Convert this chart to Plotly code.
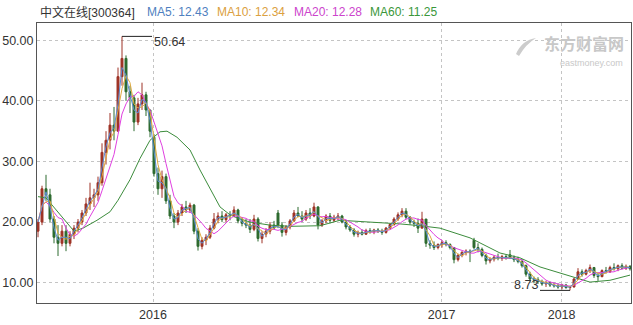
import plotly.graph_objects as go
import pandas as pd

# ---------------- data ----------------
open_ = [18.5, 20.0, 25.5, 24.5, 20.5, 17.5, 16.5, 18.5, 16.5, 18.0,
         19.0, 20.0, 21.5, 23.0, 24.0, 24.5, 26.5, 31.5, 33.5, 36.0,
         35.0, 44.0, 47.0, 41.5, 40.5, 36.5, 39.5, 41.0, 38.5, 34.0,
         28.0, 25.5, 27.5, 23.5, 21.0, 20.0, 21.5, 22.5, 22.0, 22.8,
         18.5, 16.0, 17.0, 17.5, 19.0, 20.5, 21.0, 20.4, 21.2, 21.0,
         22.0, 20.2, 19.8, 19.5, 18.8, 20.5, 17.3, 18.0, 18.5, 19.5,
         21.5, 19.5, 18.3, 19.2, 20.2, 21.5, 21.0, 20.5, 21.5, 21.0,
         22.5, 19.5, 20.2, 21.0, 20.3, 20.8, 21.0, 20.0, 19.2, 18.7,
         18.0, 18.3, 18.0, 18.6, 18.4, 18.7, 18.5, 18.3, 19.0, 19.6,
         20.5, 21.2, 21.8, 20.8, 20.0, 19.8, 19.0, 20.5, 16.5, 16.2,
         15.8, 16.3, 16.6, 16.3, 15.8, 13.8, 14.5, 15.0, 15.2, 17.0,
         15.8, 15.5, 14.5, 13.6, 13.9, 14.2, 14.0, 14.3, 14.6, 14.1,
         13.8, 13.5, 12.8, 11.4, 10.6, 10.5, 10.2, 9.8, 10.0, 9.6,
         9.5, 9.3, 9.6, 9.2, 9.3, 10.6, 11.8, 11.4, 12.0, 12.5,
         11.2, 11.0, 12.0, 11.8, 12.5, 12.3, 12.8, 12.4, 12.7]
high = [20.5, 26.0, 27.8, 25.5, 21.0, 19.5, 19.5, 19.5, 18.5, 19.5,
        20.5, 22.0, 24.0, 26.5, 25.5, 27.5, 33.0, 35.0, 38.0, 39.0,
        45.5, 50.64, 47.5, 42.5, 41.0, 40.5, 43.0, 41.5, 38.5, 34.5,
        29.0, 28.5, 28.0, 24.5, 21.5, 22.0, 23.0, 23.5, 23.2, 23.0,
        19.0, 17.5, 18.0, 19.5, 21.5, 21.6, 21.8, 21.5, 21.8, 22.6,
        22.2, 20.8, 20.5, 20.5, 21.2, 20.8, 18.5, 19.0, 20.0, 20.2,
        22.0, 20.0, 19.5, 20.5, 22.0, 22.5, 21.8, 22.0, 22.3, 23.2,
        22.6, 20.5, 21.3, 21.5, 21.2, 21.5, 21.2, 20.2, 19.5, 19.0,
        18.6, 18.8, 18.9, 19.0, 18.9, 19.0, 18.9, 19.2, 19.8, 20.8,
        21.6, 22.3, 22.3, 21.0, 20.4, 20.6, 21.7, 20.5, 17.0, 16.8,
        16.5, 17.0, 17.0, 16.5, 15.9, 14.8, 15.2, 15.5, 15.5, 17.4,
        16.5, 15.8, 14.8, 14.2, 14.5, 14.8, 14.6, 14.6, 15.4, 14.5,
        14.3, 13.9, 13.0, 11.8, 11.0, 10.9, 10.5, 10.3, 10.2, 10.0,
        9.9, 9.8, 9.8, 9.5, 10.8, 12.4, 12.2, 12.3, 13.0, 12.6,
        11.6, 12.2, 12.6, 12.8, 13.2, 13.0, 13.2, 13.0, 12.9]
low = [17.5, 19.5, 23.5, 20.0, 16.5, 14.4, 16.0, 15.2, 16.0, 17.2,
       18.3, 19.5, 21.0, 22.0, 22.5, 23.5, 26.0, 29.5, 32.0, 33.5,
       35.0, 42.5, 40.0, 38.0, 35.0, 36.0, 38.5, 37.5, 34.0, 27.5,
       24.5, 24.0, 23.0, 20.5, 19.0, 19.5, 21.0, 21.5, 21.5, 18.0,
       15.3, 15.5, 16.2, 17.2, 18.8, 19.8, 20.0, 20.0, 20.3, 20.8,
       19.8, 19.3, 19.0, 18.2, 18.5, 16.8, 16.5, 17.5, 18.0, 18.8,
       19.0, 17.6, 17.8, 18.8, 20.0, 20.8, 20.0, 20.2, 20.5, 20.8,
       18.8, 19.2, 19.8, 19.8, 20.0, 20.3, 19.8, 18.8, 18.4, 17.6,
       17.5, 17.8, 17.9, 18.1, 18.0, 18.2, 17.9, 18.1, 18.8, 19.4,
       20.2, 20.8, 20.5, 19.6, 19.2, 18.2, 19.0, 15.9, 15.6, 15.4,
       15.5, 15.8, 16.0, 15.5, 13.2, 13.5, 14.2, 14.5, 13.4, 15.5,
       15.0, 14.2, 13.0, 13.2, 13.5, 13.7, 13.6, 13.8, 13.9, 13.4,
       13.2, 12.5, 11.0, 10.2, 9.9, 9.8, 9.5, 9.3, 9.3, 9.2,
       9.0, 8.9, 9.0, 8.73, 9.2, 10.5, 11.0, 11.2, 11.6, 10.8,
       10.3, 10.9, 11.5, 11.6, 12.0, 11.9, 12.2, 12.1, 12.0]
close = [20.0, 25.5, 24.5, 20.5, 17.5, 16.5, 18.5, 16.5, 18.0, 19.0,
         20.0, 21.5, 23.0, 24.0, 24.5, 26.5, 31.5, 33.5, 36.0, 35.0,
         44.0, 47.0, 41.5, 40.5, 36.5, 39.5, 41.0, 38.5, 35.0, 28.0,
         25.5, 27.5, 23.5, 21.0, 20.0, 21.5, 22.5, 22.0, 22.8, 18.5,
         16.0, 17.0, 17.5, 19.0, 20.5, 21.0, 20.4, 21.2, 21.0, 22.0,
         20.2, 19.8, 19.5, 18.8, 20.5, 17.3, 18.0, 18.5, 19.5, 19.0,
         19.5, 18.3, 19.2, 20.2, 21.5, 21.0, 20.5, 21.5, 21.0, 22.5,
         19.5, 20.2, 21.0, 20.3, 20.8, 21.0, 20.0, 19.2, 18.7, 18.0,
         18.3, 18.0, 18.6, 18.4, 18.7, 18.5, 18.3, 19.0, 19.6, 20.5,
         21.2, 21.8, 20.8, 20.0, 19.8, 19.0, 20.5, 16.5, 16.2, 15.8,
         16.3, 16.6, 16.3, 15.8, 13.8, 14.5, 15.0, 15.2, 15.0, 15.8,
         15.5, 14.5, 13.6, 13.9, 14.2, 14.0, 14.3, 14.0, 14.1, 13.8,
         13.5, 12.8, 11.4, 10.6, 10.5, 10.2, 9.8, 10.0, 9.6, 9.5,
         9.3, 9.6, 9.2, 9.3, 10.6, 11.8, 11.4, 12.0, 12.5, 11.2,
         11.0, 12.0, 11.8, 12.5, 12.3, 12.8, 12.4, 12.7, 12.3]

# MA60 (at candle positions)
ma60_x = [0, 2, 9, 11.25, 14.75, 18, 20, 23, 25.5, 28, 30.5, 32.25, 34.75,
          38, 40.5, 42.25, 45.5, 48, 49.75, 53, 58, 63, 70.5, 75.5, 80.5,
          85.5, 90.5, 95.5, 100.5, 108, 115.5, 120.5, 125.5, 130.5, 134.25,
          138, 143, 148]
ma60_v = [24.2, 24.0, 18.5, 19.0, 20.3, 21.7, 23.6, 27.0, 30.5, 33.5, 34.9,
          35.0, 34.0, 31.9, 28.6, 26.4, 22.5, 21.2, 20.7, 20.0, 19.5, 19.3,
          19.4, 20.3, 20.1, 20.0, 19.7, 19.4, 19.0, 17.4, 14.9, 14.1, 12.6,
          11.6, 10.8, 10.1, 10.4, 11.25]

tick_pos = [28.75, 100.9, 130.9]
tick_lbl = ["2016", "2017", "2018"]
y_ticks = [10, 20, 30, 40, 50]
y_lbls = ["10.00", "20.00", "30.00", "40.00", "50.00"]

legend_items = [("中文在线[300364]", "#333333"), ("MA5: 12.43", "#4f7fc0"),
                ("MA10: 12.34", "#dba040"), ("MA20: 12.28", "#cc44cc"),
                ("MA60: 11.25", "#3a973a")]
legend_px = [38, 145, 215, 292, 368]

peak_label = "50.64"
low_label = "8.73"

# ---------------- figure ----------------
W, H = 633, 325
L, R, T, B = 37, 2, 23, 22
PW, PH = W - L - R, H - T - B

UP = "#9e3326"
DN = "#2d6a2f"
C5, C10, C20, C60 = "#5b8bd0", "#e0aa40", "#e040e0", "#3c8c3c"

idx = list(range(len(close)))
cs = pd.Series(close)
ma5 = cs.rolling(2, min_periods=1).mean()
ma10 = cs.rolling(3, min_periods=1).mean()
ma20 = cs.rolling(6, min_periods=1).mean()

fig = go.Figure()
fig.add_trace(go.Candlestick(
    x=idx, open=open_, high=high, low=low, close=close,
    increasing=dict(line=dict(color=UP, width=1), fillcolor=UP),
    decreasing=dict(line=dict(color=DN, width=1), fillcolor=DN),
    whiskerwidth=0, showlegend=False, hoverinfo="skip"))
for ser, col in [(ma60_v, C60), (ma20, C20), (ma10, C10), (ma5, C5)]:
    xs = ma60_x if col == C60 else idx
    fig.add_trace(go.Scatter(x=xs, y=list(ser), mode="lines",
                             line=dict(color=col, width=1),
                             showlegend=False, hoverinfo="skip"))

# peak / low markers
pk_i = high.index(max(high))
lo_i = low.index(min(low))
fig.add_shape(type="line", xref="x", yref="y", x0=pk_i, x1=pk_i + 7.5,
              y0=max(high), y1=max(high), line=dict(color="#222", width=1))
fig.add_annotation(x=pk_i + 7.5, y=max(high), xref="x", yref="y", text=peak_label,
                   showarrow=False, xanchor="left", yanchor="middle", yshift=-6,
                   font=dict(size=12.5, color="#333"))
fig.add_shape(type="line", xref="x", yref="y", x0=lo_i - 7.5, x1=lo_i,
              y0=min(low), y1=min(low), line=dict(color="#222", width=1))
fig.add_annotation(x=lo_i - 7.5, y=min(low), xref="x", yref="y", text=low_label,
                   showarrow=False, xanchor="right", yanchor="middle", yshift=5,
                   font=dict(size=12.5, color="#333"))

def pxx(p):
    return (p - L) / PW

def pxy(p):
    return (H - B - p) / PH

for (txt, col), px in zip(legend_items, legend_px):
    fig.add_annotation(x=pxx(px), y=pxy(12.5), xref="paper", yref="paper",
                       text=txt, showarrow=False, xanchor="left", yanchor="middle",
                       font=dict(size=12, color=col))

# watermark
fig.add_annotation(x=pxx(625), y=pxy(43), xref="paper", yref="paper",
                   text="<b>东方财富网</b>", showarrow=False, xanchor="right",
                   yanchor="middle", font=dict(size=16, color="#c8c8c8",
                                               family="Noto Sans CJK SC"),
                   borderpad=0)
fig.add_annotation(x=pxx(624), y=pxy(63), xref="paper", yref="paper",
                   text="eastmoney.com", showarrow=False, xanchor="right",
                   yanchor="middle", font=dict(size=9, color="#c8c8c8"),
                   borderpad=0)
fig.add_shape(type="path", xref="paper", yref="paper",
              path=f"M {pxx(516)} {pxy(54)} Q {pxx(522)} {pxy(40)} {pxx(536)} {pxy(38)} "
                   f"Q {pxx(526)} {pxy(44)} {pxx(519)} {pxy(56)} Z",
              fillcolor="#cccccc", line=dict(width=0))

axis_common = dict(showline=True, linecolor="#555", linewidth=1, mirror=True,
                   showgrid=True, gridcolor="#c4c4c4", griddash="3px,3px",
                   gridwidth=1, zeroline=False, ticks="",
                   tickfont=dict(size=12.5, color="#333"))
fig.update_layout(
    width=W, height=H, margin=dict(l=L, r=R, t=T, b=B, pad=0),
    paper_bgcolor="white", plot_bgcolor="white",
    font=dict(family="Arial, Liberation Sans, Noto Sans CJK SC", color="#333"),
    xaxis=dict(range=[-0.25, len(close) - 0.75], tickmode="array",
               tickvals=tick_pos, ticktext=tick_lbl,
               rangeslider=dict(visible=False), **axis_common),
    yaxis=dict(range=[6.65, 52.85], tickmode="array", tickvals=y_ticks,
               ticktext=y_lbls, **axis_common),
)
fig.write_html("out.html")
